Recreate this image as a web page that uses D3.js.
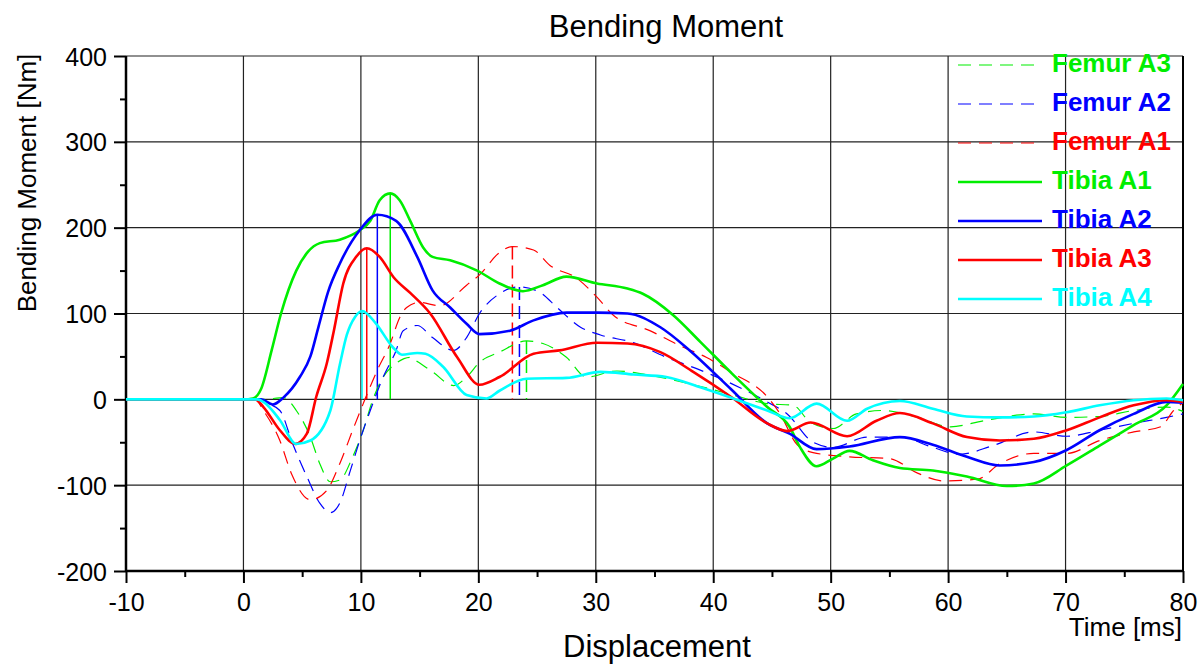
<!DOCTYPE html>
<html>
<head>
<meta charset="utf-8">
<script src="https://cdn.jsdelivr.net/npm/d3@7"></script>
<style>
  html, body { margin: 0; padding: 0; background: #fff; }
  svg { display: block; font-family: "Liberation Sans", Arial, sans-serif; }
</style>
</head>
<body>
<svg id="chart" width="1198" height="664"></svg>
<script>
// values: [time ms, moment Nm]
const femurA3 = [[-10,0],[1.7,0],[3.4,2],[4.5,-13],[5.7,-44],[6.5,-75],[7.4,-96],[8.2,-94],[9.3,-67],[10.2,-36],[11,-1],[11.9,26],[13,42],[14.2,49],[14.8,44],[16.1,32],[17.9,16],[19,26],[20.1,43],[21.8,55],[24.1,68],[25.5,65],[27.5,49],[29.2,26],[31.8,33],[34.6,28],[37.4,20],[39.5,13],[41.7,5],[44.6,-5],[46.8,-7],[48.3,-27],[50.2,-34],[52.2,-17],[54.5,-13],[57.4,-21],[60.2,-32],[63,-25],[67.3,-17],[70.1,-21],[72.9,-20],[75.8,-13],[78.6,-9],[80,-14]];
const femurA2 = [[-10,0],[1.2,0],[1.7,-3],[3.1,-13],[4.2,-52],[5.4,-90],[6.5,-121],[7.4,-132],[8.2,-121],[9.1,-83],[9.9,-48],[10.8,-13],[11.9,26],[13,57],[13.6,80],[14.8,86],[16.1,72],[17.9,57],[19,72],[20.1,100],[21.8,123],[23.5,131],[25.2,125],[26.7,107],[28.7,84],[30.4,75],[33.2,66],[36,49],[38.9,34],[41.6,18],[44.6,-3],[46.3,-17],[48.5,-50],[50.2,-56],[53.1,-44],[55.9,-44],[58.7,-56],[61,-64],[63.8,-54],[67.3,-38],[70.1,-43],[72.9,-36],[75.8,-28],[78.6,-21],[80,-17]];
const femurA1 = [[-10,0],[1,0],[1.7,-13],[3.1,-48],[4.1,-87],[5.7,-117],[7.1,-106],[8.2,-75],[9.3,-36],[10.2,-5],[11.4,34],[12.5,65],[13.3,95],[13.9,107],[15,113],[16.7,109],[19,133],[20.1,145],[21.8,171],[22.9,178],[24.7,174],[26.1,156],[28.4,141],[30.1,119],[31.5,98],[34.6,80],[37.4,61],[39.4,49],[41.6,31],[44.6,3],[45.7,-17],[47.1,-52],[48.5,-62],[51.6,-67],[55,-69],[57.4,-86],[59.6,-95],[62.5,-93],[64.4,-75],[67.3,-63],[70.1,-63],[72.9,-48],[75.8,-38],[78.1,-32],[79.2,-13],[80,-4]];
const tibiaA1 = [[-10,0],[0,0],[0.8,1],[1.5,12],[2.4,57],[3.2,100],[4.5,150],[5.5,172],[6.5,182],[8.2,186],[9.9,197],[10.8,208],[11.6,232],[12.5,240],[13.3,232],[14.2,208],[15.3,177],[16.1,166],[17.6,162],[19.9,150],[21.8,135],[23.8,126],[25.5,133],[27.5,143],[30.1,135],[32.7,129],[34,123],[36.6,98],[38.9,67],[41.6,30],[44.6,-9],[46.5,-32],[47.4,-56],[48.8,-78],[50.2,-69],[51.6,-60],[53.6,-71],[55.9,-80],[58.7,-83],[61.6,-90],[65,-101],[67.3,-98],[70.1,-77],[72.9,-54],[75.8,-30],[78.6,-7],[80,18]];
const tibiaA2 = [[-10,0],[1.5,0],[2.5,-6],[3.4,2],[4.8,26],[5.7,50],[6.4,85],[7.2,125],[8.2,158],[9.9,197],[11.4,215],[13,208],[14.8,166],[16.1,127],[17.6,107],[19,88],[20.1,76],[22.7,80],[24.7,92],[27.5,101],[30.1,101],[32.7,100],[35.5,84],[38,57],[41.5,12],[44.6,-28],[46.5,-40],[48.8,-58],[51.6,-55],[55.9,-44],[58.7,-53],[61.6,-67],[64.4,-77],[67.3,-73],[70.1,-59],[72.9,-36],[75.8,-17],[78.6,-3],[80,-4]];
const tibiaA3 = [[-10,0],[1,0],[1.7,-9],[3.1,-36],[4.4,-52],[5.4,-40],[6.2,3],[7.1,42],[7.7,80],[8.5,135],[9.6,166],[10.5,176],[11.6,166],[12.8,142],[14.2,124],[15.9,100],[18.2,49],[20.1,17],[21.8,26],[24.7,53],[26.9,57],[30.1,66],[32.7,65],[35.5,55],[38.3,32],[41.5,3],[44.6,-28],[46.3,-37],[48.3,-27],[51.4,-43],[53.9,-25],[55.9,-16],[58.7,-28],[61.6,-44],[64.4,-48],[67.3,-46],[70.1,-36],[72.9,-21],[75.8,-7],[78.6,-1],[80,-3]];
const tibiaA4 = [[-10,0],[1.2,0],[1.7,-3],[3.1,-24],[4.5,-52],[5.7,-48],[7.4,-13],[8.2,40],[8.8,75],[9.5,96],[10.1,103],[11.3,88],[12.7,61],[13.5,52],[14.8,54],[15.5,53],[17,38],[19,5],[20.7,1],[21.8,10],[24.1,24],[27.5,25],[30.4,32],[33.2,29],[36,26],[38.9,14],[41.7,1],[44.6,-13],[46.5,-22],[48.8,-5],[51.4,-25],[53.1,-11],[55.9,-2],[58.7,-11],[61.6,-20],[64.4,-21],[67.3,-20],[70.1,-15],[72.9,-7],[75.8,-1],[78.6,1],[80,-1]];

const seriesNames = ['Femur A3', 'Femur A2', 'Femur A1', 'Tibia A1', 'Tibia A2', 'Tibia A3', 'Tibia A4'];
const seriesData = [femurA3, femurA2, femurA1, tibiaA1, tibiaA2, tibiaA3, tibiaA4];
const seriesColors = ['#00ee00', '#0000ff', '#ff0000', '#00ee00', '#0000ff', '#ff0000', '#00ffff'];
const seriesDashed = [true, true, true, false, false, false, false];

const xDomain = [-10, 80];
const yDomain = [-200, 400];
const xTicks = [-10, 0, 10, 20, 30, 40, 50, 60, 70, 80];
const yTicks = [-200, -100, 0, 100, 200, 300, 400];

const svg = d3.select('#chart');
const plotLeft = 126, plotRight = 1183, plotTop = 56, plotBottom = 571;

const x = d3.scaleLinear().domain(xDomain).range([plotLeft, plotRight]);
const y = d3.scaleLinear().domain(yDomain).range([plotBottom, plotTop]);

// grid
const grid = svg.append('g').attr('stroke', '#222').attr('stroke-width', 1.2);
grid.selectAll('.gx').data(xTicks.slice(1, -1)).enter().append('line')
  .attr('x1', (d) => x(d)).attr('x2', (d) => x(d)).attr('y1', plotTop).attr('y2', plotBottom);
grid.selectAll('.gy').data(yTicks.slice(1)).enter().append('line')
  .attr('y1', (d) => y(d)).attr('y2', (d) => y(d)).attr('x1', plotLeft).attr('x2', plotRight);
// right frame
svg.append('line').attr('x1', plotRight).attr('x2', plotRight).attr('y1', plotTop).attr('y2', plotBottom)
  .attr('stroke', '#000').attr('stroke-width', 2);

// axes (plain hyphen for negatives, like the original)
const fmt = (d) => String(d);
const xAxis = svg.append('g').attr('transform', `translate(0,${plotBottom})`)
  .call(d3.axisBottom(x).tickValues(xTicks).tickSize(12).tickPadding(10).tickFormat(fmt));
const xMinor = svg.append('g').attr('transform', `translate(0,${plotBottom})`)
  .call(d3.axisBottom(x).tickValues(d3.range(-5, 80, 10)).tickSize(6).tickFormat(''));
const yAxis = svg.append('g').attr('transform', `translate(${plotLeft},0)`)
  .call(d3.axisLeft(y).tickValues(yTicks).tickSize(12).tickPadding(7).tickFormat(fmt));
const yMinor = svg.append('g').attr('transform', `translate(${plotLeft},0)`)
  .call(d3.axisLeft(y).tickValues(d3.range(-150, 400, 100)).tickSize(6).tickFormat(''));

[xAxis, xMinor, yAxis, yMinor].forEach((g) => {
  g.select('.domain').remove();
  g.selectAll('line').attr('stroke', '#000').attr('stroke-width', 2);
  g.selectAll('text').attr('fill', '#000').attr('font-size', 25)
    .style('font-family', '"Liberation Sans", Arial, sans-serif');
});
yAxis.selectAll('text').attr('dy', '0.36em');

svg.append('line').attr('x1', plotLeft).attr('x2', plotRight).attr('y1', plotBottom).attr('y2', plotBottom)
  .attr('stroke', '#000').attr('stroke-width', 2.5);
svg.append('line').attr('x1', plotLeft).attr('x2', plotLeft).attr('y1', plotTop).attr('y2', plotBottom)
  .attr('stroke', '#000').attr('stroke-width', 2.5);

// curves
const line = d3.line().x((d) => x(d[0])).y((d) => y(d[1])).curve(d3.curveMonotoneX);
const plot = svg.append('g');

// drop line from each curve's maximum to zero
seriesData.forEach((data, i) => {
  const peak = data.reduce((a, b) => (b[1] > a[1] ? b : a));
  plot.append('line')
    .attr('x1', x(peak[0])).attr('x2', x(peak[0]))
    .attr('y1', y(peak[1])).attr('y2', y(0))
    .attr('stroke', seriesColors[i])
    .attr('stroke-width', 1.5)
    .attr('stroke-dasharray', seriesDashed[i] ? '13,6' : null);
});

seriesData.forEach((data, i) => {
  plot.append('path')
    .datum(data)
    .attr('d', line)
    .attr('fill', 'none')
    .attr('stroke', seriesColors[i])
    .attr('stroke-width', seriesDashed[i] ? 1.2 : 2.6)
    .attr('stroke-dasharray', seriesDashed[i] ? '13,8' : null);
});

// legend
const legend = svg.append('g');
seriesNames.forEach((name, i) => {
  const base = 72 + i * 39;
  legend.append('line')
    .attr('x1', 958).attr('x2', 1042).attr('y1', base - 7).attr('y2', base - 7)
    .attr('stroke', seriesColors[i])
    .attr('stroke-width', seriesDashed[i] ? 1.2 : 2.6)
    .attr('stroke-dasharray', seriesDashed[i] ? '13,8' : null);
  legend.append('text')
    .attr('x', 1052).attr('y', base)
    .attr('font-size', 26).attr('font-weight', 'bold')
    .attr('fill', seriesColors[i])
    .text(name);
});

// titles
svg.append('text').attr('x', 666).attr('y', 37).attr('text-anchor', 'middle')
  .attr('font-size', 31).text('Bending Moment');
svg.append('text').attr('x', 657).attr('y', 657).attr('text-anchor', 'middle')
  .attr('font-size', 31).text('Displacement');
svg.append('text').attr('x', 1182).attr('y', 636).attr('text-anchor', 'end')
  .attr('font-size', 26).text('Time [ms]');
svg.append('text').attr('transform', 'translate(36,183) rotate(-90)').attr('text-anchor', 'middle')
  .attr('font-size', 26).text('Bending Moment [Nm]');
</script>
</body>
</html>
